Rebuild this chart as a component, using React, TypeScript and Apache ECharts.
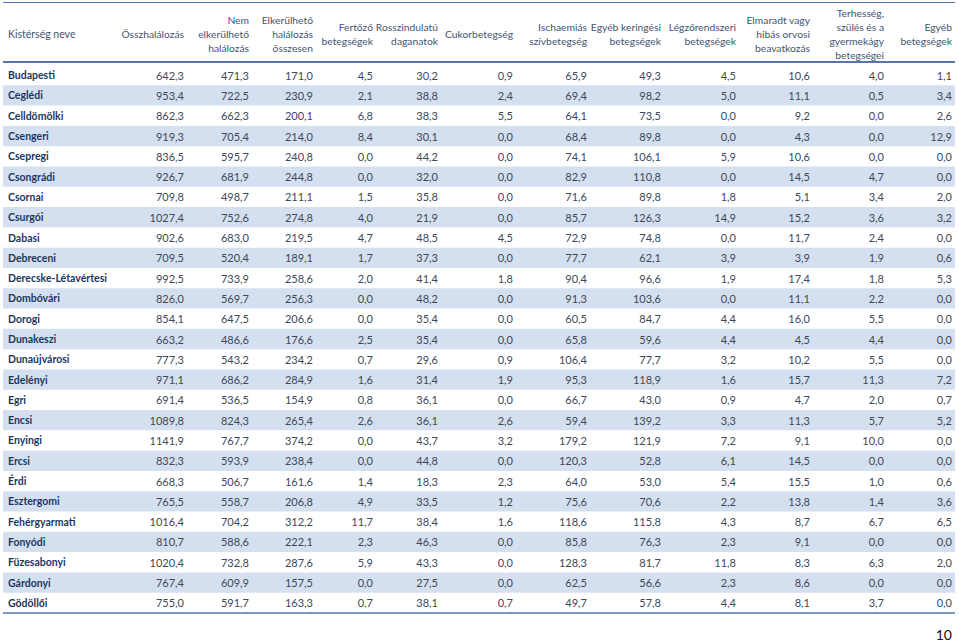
import React, { useEffect, useRef } from "react";
import * as echarts from "echarts";

const districts = [
  "Budapesti", "Ceglédi", "Celldömölki", "Csengeri", "Csepregi", "Csongrádi", "Csornai",
  "Csurgói", "Dabasi", "Debreceni", "Derecske-Létavértesi", "Dombóvári", "Dorogi",
  "Dunakeszi", "Dunaújvárosi", "Edelényi", "Egri", "Encsi", "Enyingi", "Ercsi", "Érdi",
  "Esztergomi", "Fehérgyarmati", "Fonyódi", "Füzesabonyi", "Gárdonyi", "Gödöllői",
];

const headers = [
  "Összhalálozás",
  "Nem\nelkerülhető\nhalálozás",
  "Elkerülhető\nhalálozás\nösszesen",
  "Fertőző\nbetegségek",
  "Rosszindulatú\ndaganatok",
  "Cukorbetegség",
  "Ischaemiás\nszívbetegség",
  "Egyéb keringési\nbetegségek",
  "Légzőrendszeri\nbetegségek",
  "Elmaradt vagy\nhibás orvosi\nbeavatkozás",
  "Terhesség,\nszülés és a\ngyermekágy\nbetegségei",
  "Egyéb\nbetegségek",
];
const firstHeader = "Kistérség neve";

const ossz = [642.3, 953.4, 862.3, 919.3, 836.5, 926.7, 709.8, 1027.4, 902.6, 709.5, 992.5, 826.0, 854.1, 663.2, 777.3, 971.1, 691.4, 1089.8, 1141.9, 832.3, 668.3, 765.5, 1016.4, 810.7, 1020.4, 767.4, 755.0];
const nemElkerulheto = [471.3, 722.5, 662.3, 705.4, 595.7, 681.9, 498.7, 752.6, 683.0, 520.4, 733.9, 569.7, 647.5, 486.6, 543.2, 686.2, 536.5, 824.3, 767.7, 593.9, 506.7, 558.7, 704.2, 588.6, 732.8, 609.9, 591.7];
const elkerulheto = [171.0, 230.9, 200.1, 214.0, 240.8, 244.8, 211.1, 274.8, 219.5, 189.1, 258.6, 256.3, 206.6, 176.6, 234.2, 284.9, 154.9, 265.4, 374.2, 238.4, 161.6, 206.8, 312.2, 222.1, 287.6, 157.5, 163.3];
const fertozo = [4.5, 2.1, 6.8, 8.4, 0.0, 0.0, 1.5, 4.0, 4.7, 1.7, 2.0, 0.0, 0.0, 2.5, 0.7, 1.6, 0.8, 2.6, 0.0, 0.0, 1.4, 4.9, 11.7, 2.3, 5.9, 0.0, 0.7];
const rosszindulatu = [30.2, 38.8, 38.3, 30.1, 44.2, 32.0, 35.8, 21.9, 48.5, 37.3, 41.4, 48.2, 35.4, 35.4, 29.6, 31.4, 36.1, 36.1, 43.7, 44.8, 18.3, 33.5, 38.4, 46.3, 43.3, 27.5, 38.1];
const cukor = [0.9, 2.4, 5.5, 0.0, 0.0, 0.0, 0.0, 0.0, 4.5, 0.0, 1.8, 0.0, 0.0, 0.0, 0.9, 1.9, 0.0, 2.6, 3.2, 0.0, 2.3, 1.2, 1.6, 0.0, 0.0, 0.0, 0.7];
const ischaemias = [65.9, 69.4, 64.1, 68.4, 74.1, 82.9, 71.6, 85.7, 72.9, 77.7, 90.4, 91.3, 60.5, 65.8, 106.4, 95.3, 66.7, 59.4, 179.2, 120.3, 64.0, 75.6, 118.6, 85.8, 128.3, 62.5, 49.7];
const egyebKeringesi = [49.3, 98.2, 73.5, 89.8, 106.1, 110.8, 89.8, 126.3, 74.8, 62.1, 96.6, 103.6, 84.7, 59.6, 77.7, 118.9, 43.0, 139.2, 121.9, 52.8, 53.0, 70.6, 115.8, 76.3, 81.7, 56.6, 57.8];
const legzo = [4.5, 5.0, 0.0, 0.0, 5.9, 0.0, 1.8, 14.9, 0.0, 3.9, 1.9, 0.0, 4.4, 4.4, 3.2, 1.6, 0.9, 3.3, 7.2, 6.1, 5.4, 2.2, 4.3, 2.3, 11.8, 2.3, 4.4];
const elmaradt = [10.6, 11.1, 9.2, 4.3, 10.6, 14.5, 5.1, 15.2, 11.7, 3.9, 17.4, 11.1, 16.0, 4.5, 10.2, 15.7, 4.7, 11.3, 9.1, 14.5, 15.5, 13.8, 8.7, 9.1, 8.3, 8.6, 8.1];
const terhesseg = [4.0, 0.5, 0.0, 0.0, 0.0, 4.7, 3.4, 3.6, 2.4, 1.9, 1.8, 2.2, 5.5, 4.4, 5.5, 11.3, 2.0, 5.7, 10.0, 0.0, 1.0, 1.4, 6.7, 0.0, 6.3, 0.0, 3.7];
const egyeb = [1.1, 3.4, 2.6, 12.9, 0.0, 0.0, 2.0, 3.2, 0.0, 0.6, 5.3, 0.0, 0.0, 0.0, 0.0, 7.2, 0.7, 5.2, 0.0, 0.0, 0.6, 3.6, 6.5, 0.0, 2.0, 0.0, 0.0];

const columns = [ossz, nemElkerulheto, elkerulheto, fertozo, rosszindulatu, cukor, ischaemias, egyebKeringesi, legzo, elmaradt, terhesseg, egyeb];
const pageNumber = "10";

// layout (right edges of columns, in page pixels)
const colRight = [184, 249, 313, 373, 438, 513, 587, 661, 736, 810, 884, 952];
const FONT = "Lato, 'Noto Sans', sans-serif";
const NUM_COLOR = "#3e4857";
const NAME_COLOR = "#1b3761";
const HEAD_COLOR = "#44556f";
const BAND = "#d4dff0";
const LINE = "#5476a8";

const fmt = (v: number) => v.toFixed(1).replace(".", ",");

export default function App() {
  const ref = useRef<HTMLDivElement>(null);
  useEffect(() => {
    document.body.style.margin = "0";
    const chart = echarts.init(ref.current!, null, { renderer: "svg" });
    const headerGraphics: any[] = headers.map((h, j) => ({
      type: "text",
      x: colRight[j],
      y: 34,
      style: {
        text: h,
        align: "right",
        verticalAlign: "middle",
        fill: HEAD_COLOR,
        font: `10.3px ${FONT}`,
        lineHeight: 13.8,
      },
    }));
    chart.setOption({
      animation: false,
      grid: { left: 0, right: 0, top: 65, bottom: 30 },
      xAxis: { type: "value", min: 0, max: 959, show: false },
      yAxis: {
        type: "category",
        data: districts,
        inverse: true,
        show: false,
      },
      graphic: [
        { type: "line", shape: { x1: 3, y1: 2.5, x2: 955, y2: 2.5 }, style: { stroke: LINE, lineWidth: 1.2 } },
        { type: "line", shape: { x1: 3, y1: 62, x2: 955, y2: 62 }, style: { stroke: LINE, lineWidth: 2 } },
        { type: "line", shape: { x1: 3, y1: 613, x2: 955, y2: 613 }, style: { stroke: LINE, lineWidth: 1.5 } },
        {
          type: "text",
          x: 8,
          y: 34,
          style: { text: firstHeader, align: "left", verticalAlign: "middle", fill: HEAD_COLOR, font: `10.5px ${FONT}` },
        },
        ...headerGraphics,
        {
          type: "text",
          x: 952,
          y: 634,
          style: { text: pageNumber, align: "right", verticalAlign: "middle", fill: "#111", font: `14px ${FONT}` },
        },
      ],
      series: [
        {
          type: "custom",
          data: districts.map((d, i) => [0, i]),
          encode: { x: 0, y: 1 },
          renderItem: (params: any, api: any) => {
            const i = params.dataIndex;
            const row = api.value(1);
            const [x0, cy] = api.coord([3, row]);
            const [x1] = api.coord([955, row]);
            const h = api.size([0, 1])[1];
            const children: any[] = [];
            if (i % 2 === 1) {
              children.push({
                type: "rect",
                shape: { x: x0, y: cy - h / 2, width: x1 - x0, height: h },
                style: { fill: BAND },
              });
            }
            const [nx] = api.coord([8, row]);
            children.push({
              type: "text",
              style: {
                x: nx, y: cy, text: districts[i], align: "left", verticalAlign: "middle",
                fill: NAME_COLOR, font: `bold 10.5px ${FONT}`,
              },
            });
            columns.forEach((col, j) => {
              const [cx] = api.coord([colRight[j], row]);
              children.push({
                type: "text",
                style: {
                  x: cx, y: cy, text: fmt(col[i]), align: "right", verticalAlign: "middle",
                  fill: NUM_COLOR, font: `11px ${FONT}`,
                },
              });
            });
            return { type: "group", children };
          },
        },
      ],
    });
    return () => chart.dispose();
  }, []);
  return <div ref={ref} style={{ width: 959, height: 643 }} />;
}
